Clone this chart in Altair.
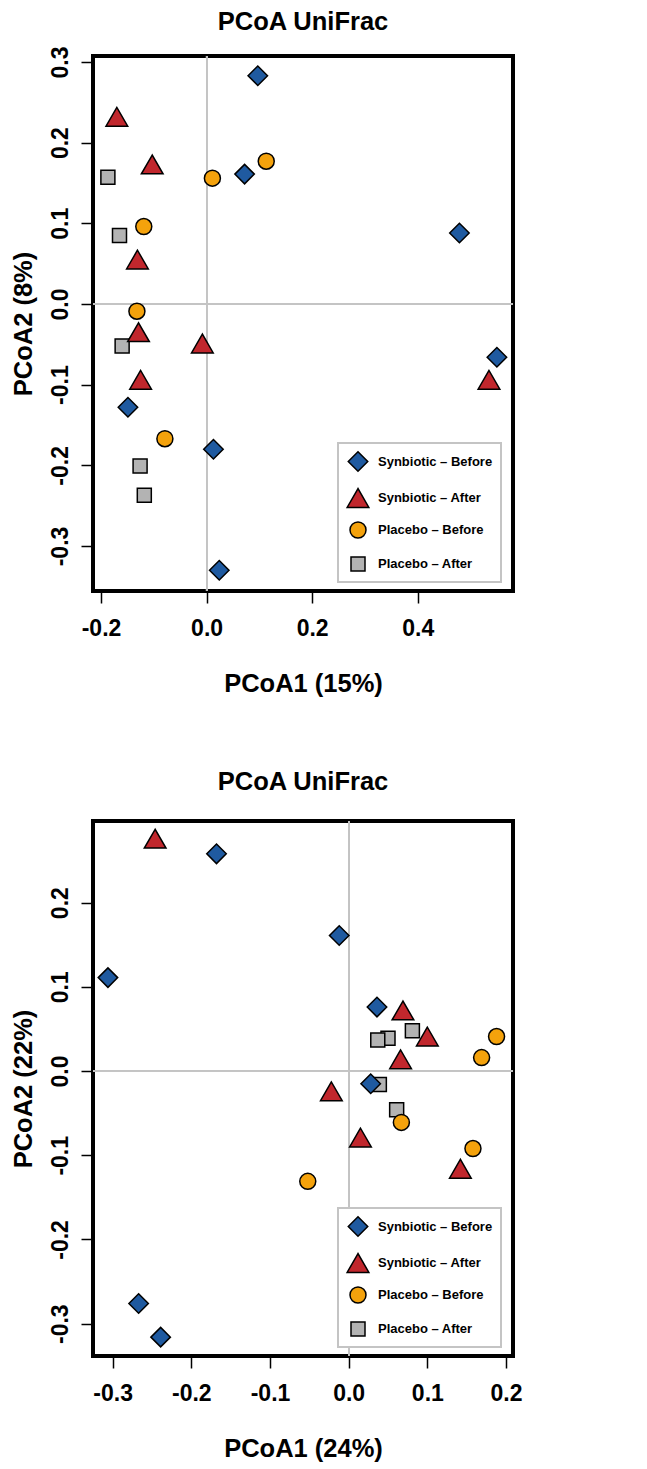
import altair as alt
import pandas as pd

FONT = "Liberation Sans, Arial, sans-serif"

groups = ["Synbiotic – Before", "Synbiotic – After", "Placebo – Before", "Placebo – After"]
colors = ["#1f5aa0", "#c1272d", "#f4a20c", "#b3b3b3"]
outline = ["black", "black", "black", "black"]
shapes = ["diamond", "triangle-up", "circle", "square"]
sizes = [380, 470, 256, 196]

# ---- Panel 1 (PCoA1 15%, PCoA2 8%)
p1_sb_x = [0.097, 0.072, 0.479, 0.550, -0.149, 0.013, 0.024]
p1_sb_y = [0.283, 0.161, 0.088, -0.066, -0.128, -0.180, -0.330]
p1_sa_x = [-0.170, -0.103, -0.131, -0.129, -0.008, -0.125, 0.535]
p1_sa_y = [0.232, 0.173, 0.055, -0.035, -0.049, -0.094, -0.094]
p1_pb_x = [0.011, 0.113, -0.119, -0.132, -0.079]
p1_pb_y = [0.156, 0.177, 0.096, -0.009, -0.167]
p1_pa_x = [-0.187, -0.165, -0.160, -0.126, -0.118]
p1_pa_y = [0.157, 0.085, -0.052, -0.201, -0.237]

# ---- Panel 2 (PCoA1 24%, PCoA2 22%)
p2_sb_x = [-0.168, -0.012, -0.306, 0.036, 0.028, -0.267, -0.239]
p2_sb_y = [0.258, 0.161, 0.111, 0.076, -0.015, -0.276, -0.316]
p2_sa_x = [-0.246, 0.069, 0.100, 0.066, -0.022, 0.015, 0.142]
p2_sa_y = [0.276, 0.072, 0.041, 0.014, -0.024, -0.079, -0.116]
p2_pb_x = [0.188, 0.169, 0.067, 0.158, -0.052]
p2_pb_y = [0.041, 0.016, -0.061, -0.092, -0.131]
p2_pa_x = [0.081, 0.050, 0.037, 0.039, 0.061]
p2_pa_y = [0.048, 0.039, 0.037, -0.016, -0.046]


def frame(sets):
    rows = []
    for g, xs, ys in sets:
        for x, y in zip(xs, ys):
            rows.append({"x": x, "y": y, "group": g})
    return pd.DataFrame(rows)


# draw order: placebo after, placebo before, synbiotic after, synbiotic before
df1 = frame([
    (groups[3], p1_pa_x, p1_pa_y),
    (groups[2], p1_pb_x, p1_pb_y),
    (groups[1], p1_sa_x, p1_sa_y),
    (groups[0], p1_sb_x, p1_sb_y),
])
df2 = frame([
    (groups[3], p2_pa_x, p2_pa_y),
    (groups[2], p2_pb_x, p2_pb_y),
    (groups[1], p2_sa_x, p2_sa_y),
    (groups[0], p2_sb_x, p2_sb_y),
])

label_expr = "datum.value < -0.00001 ? '-' + format(-datum.value, '.1f') : format(abs(datum.value), '.1f')"


def panel(df, xdom, ydom, xticks, yticks, xtitle, ytitle, title_offset):
    xscale = alt.Scale(domain=xdom, nice=False, zero=False)
    yscale = alt.Scale(domain=ydom, nice=False, zero=False)
    xaxis = alt.Axis(values=xticks, labelExpr=label_expr, title=xtitle,
                     tickSize=12, tickWidth=1.5, tickColor="black", domain=False, grid=False,
                     labelFont=FONT, labelFontSize=23, labelFontWeight="bold", labelColor="black",
                     labelPadding=14, titleFont=FONT, titleFontSize=25.5, titleFontWeight="bold",
                     titleColor="black", titlePadding=31)
    yaxis = alt.Axis(values=yticks, labelExpr=label_expr, title=ytitle,
                     tickSize=12, tickWidth=1.5, tickColor="black", domain=False, grid=False,
                     labelAngle=-90, labelAlign="center", labelBaseline="bottom",
                     labelFont=FONT, labelFontSize=23, labelFontWeight="bold", labelColor="black",
                     labelPadding=9, titleFont=FONT, titleFontSize=25.5, titleFontWeight="bold",
                     titleColor="black", titlePadding=13)
    legend = alt.Legend(title=None, orient="none", legendX=245, legendY=387,
                        strokeColor="#c4c4c4", fillColor="white", padding=8,
                        rowPadding=8, gridAlign="all", labelFont=FONT, labelFontSize=13,
                        labelFontWeight="bold", labelColor="black", labelOffset=8,
                        labelLimit=300, symbolStrokeColor="black", symbolStrokeWidth=1.5)
    zx = alt.Chart(df).mark_rule(color="#c4c4c4", strokeWidth=1.2).encode(
        x=alt.datum(0, scale=xscale, axis=xaxis))
    zy = alt.Chart(df).mark_rule(color="#c4c4c4", strokeWidth=1.2).encode(
        y=alt.datum(0, scale=yscale, axis=yaxis))
    pts = alt.Chart(df).mark_point(filled=True, strokeWidth=1.5, opacity=1).encode(
        x=alt.X("x:Q", scale=xscale, axis=xaxis),
        y=alt.Y("y:Q", scale=yscale, axis=yaxis),
        fill=alt.Fill("group:N", scale=alt.Scale(domain=groups, range=colors), legend=legend),
        stroke=alt.Stroke("group:N", scale=alt.Scale(domain=groups, range=outline), legend=legend),
        shape=alt.Shape("group:N", scale=alt.Scale(domain=groups, range=shapes), legend=legend),
        size=alt.Size("group:N", scale=alt.Scale(type="ordinal", domain=groups, range=sizes),
                      legend=legend),
    )
    return alt.layer(zx, zy, pts).properties(
        width=420, height=535,
        title=alt.TitleParams("PCoA UniFrac", font=FONT, fontSize=25.5, fontWeight="bold",
                              color="black", offset=title_offset, anchor="middle", frame="group"),
    )


top = panel(df1, [-0.2152, 0.5805], [-0.3558, 0.3074], [-0.2, 0.0, 0.2, 0.4],
            [-0.3, -0.2, -0.1, 0.0, 0.1, 0.2, 0.3], "PCoA1 (15%)", "PCoA2 (8%)", 10)
bottom = panel(df2, [-0.325, 0.2089], [-0.3384, 0.297], [-0.3, -0.2, -0.1, 0.0, 0.1, 0.2],
               [-0.3, -0.2, -0.1, 0.0, 0.1, 0.2], "PCoA1 (24%)", "PCoA2 (22%)", 25)

chart = alt.vconcat(top, bottom, spacing=68).resolve_scale(
    fill="independent", shape="independent", size="independent", stroke="independent"
).resolve_legend(
    fill="independent", shape="independent", size="independent", stroke="independent"
).properties(
    padding={"left": 0, "top": 0, "right": 5, "bottom": 0}
).configure_view(
    stroke="black", strokeWidth=4
).configure_legend(strokeWidth=2)

chart.save("out.html", embed_options={"renderer": "svg", "actions": False})
